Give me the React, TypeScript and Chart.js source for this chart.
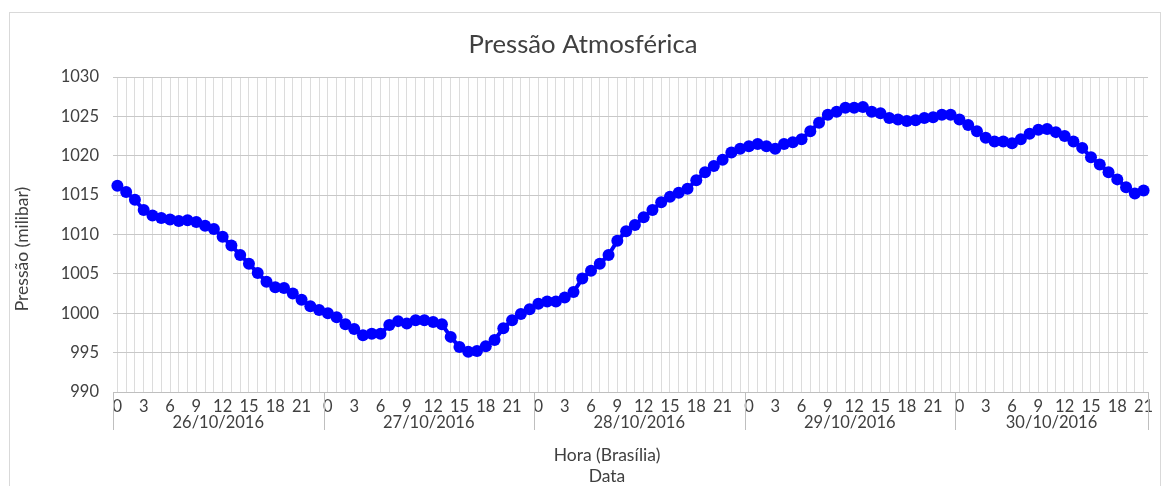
import React, { useEffect, useRef } from 'react';
import { Chart, registerables } from 'chart.js';

Chart.register(...registerables);

const chartTitle = 'Pressão Atmosférica';
const yAxisTitle = 'Pressão (milibar)';
const xAxisTitle1 = 'Hora (Brasília)';
const xAxisTitle2 = 'Data';

const dayLabels = ['26/10/2016', '27/10/2016', '28/10/2016', '29/10/2016', '30/10/2016'];

const pressure26 = [1016.2, 1015.4, 1014.4, 1013.1, 1012.4, 1012.1, 1011.9, 1011.7, 1011.8, 1011.6, 1011.1, 1010.7, 1009.7, 1008.6, 1007.4, 1006.3, 1005.1, 1004.0, 1003.3, 1003.2, 1002.5, 1001.7, 1000.9, 1000.4];
const pressure27 = [1000.0, 999.5, 998.6, 998.0, 997.2, 997.4, 997.4, 998.5, 999.0, 998.7, 999.1, 999.1, 998.9, 998.6, 997.0, 995.7, 995.1, 995.2, 995.8, 996.6, 998.1, 999.1, 999.9, 1000.5];
const pressure28 = [1001.2, 1001.5, 1001.5, 1002.0, 1002.7, 1004.4, 1005.4, 1006.3, 1007.4, 1009.2, 1010.4, 1011.2, 1012.2, 1013.1, 1014.1, 1014.8, 1015.3, 1015.8, 1016.9, 1017.9, 1018.7, 1019.5, 1020.4, 1020.9];
const pressure29 = [1021.2, 1021.5, 1021.2, 1020.9, 1021.5, 1021.7, 1022.1, 1023.1, 1024.2, 1025.2, 1025.6, 1026.1, 1026.1, 1026.2, 1025.6, 1025.4, 1024.8, 1024.6, 1024.4, 1024.5, 1024.8, 1024.9, 1025.2, 1025.2];
const pressure30 = [1024.6, 1023.9, 1023.1, 1022.3, 1021.8, 1021.8, 1021.6, 1022.1, 1022.8, 1023.3, 1023.4, 1023.0, 1022.5, 1021.8, 1021.0, 1019.8, 1018.9, 1017.9, 1017.0, 1016.0, 1015.2, 1015.6];

const dailySeries = [pressure26, pressure27, pressure28, pressure29, pressure30];

const yMin = 990;
const yMax = 1030;
const yStep = 5;
const hourLabelStep = 3;

const FONT = 'Lato, "Open Sans", sans-serif';
const TEXT = '#404040';

export default function App() {
  const canvasRef = useRef<HTMLCanvasElement | null>(null);

  useEffect(() => {
    const canvas = canvasRef.current;
    if (!canvas) return;

    const hourLabels: string[] = [];
    const values: number[] = [];
    const dayStarts: number[] = [];
    dailySeries.forEach((day) => {
      dayStarts.push(hourLabels.length);
      day.forEach((v, h) => {
        hourLabels.push(String(h));
        values.push(v);
      });
    });
    const total = hourLabels.length;

    const decorPlugin = {
      id: 'decor',
      afterDraw(chart: any) {
        const ctx = chart.ctx;
        const area = chart.chartArea;
        const xs = chart.scales.x;
        const half = (xs.getPixelForValue(1) - xs.getPixelForValue(0)) / 2;
        const bounds: number[] = dayStarts.map((s) => xs.getPixelForValue(s) - half);
        bounds.push(xs.getPixelForValue(total - 1) + half);

        ctx.save();
        ctx.strokeStyle = '#bfbfbf';
        ctx.lineWidth = 1;
        bounds.forEach((bx) => {
          const px = Math.round(bx) + 0.5;
          ctx.beginPath();
          ctx.moveTo(px, area.bottom);
          ctx.lineTo(px, area.bottom + 38);
          ctx.stroke();
        });

        ctx.fillStyle = TEXT;
        ctx.font = `16.5px ${FONT}`;
        ctx.textAlign = 'center';
        ctx.textBaseline = 'middle';
        dayLabels.forEach((d, i) => {
          ctx.fillText(d, (bounds[i] + bounds[i + 1]) / 2, area.bottom + 31);
        });

        // Chart title
        ctx.font = `25.7px ${FONT}`;
        ctx.fillText(chartTitle, 573, 32);

        // X axis titles
        ctx.font = `17.5px ${FONT}`;
        ctx.fillText(xAxisTitle1, 597, 442);
        ctx.fillText(xAxisTitle2, 597, 463);

        // Y axis title
        ctx.translate(12, 236);
        ctx.rotate(-Math.PI / 2);
        ctx.fillText(yAxisTitle, 0, 0);
        ctx.restore();
      },
    };

    const chart = new Chart(canvas, {
      type: 'line',
      data: {
        labels: hourLabels,
        datasets: [
          {
            label: yAxisTitle,
            data: values,
            borderColor: '#0000ff',
            backgroundColor: '#0000ff',
            borderWidth: 4,
            pointRadius: 6,
            pointBackgroundColor: '#0000ff',
            pointBorderWidth: 0,
            tension: 0,
          },
        ],
      },
      options: {
        animation: false,
        responsive: false,
        devicePixelRatio: 1,
        layout: { padding: { left: 0, right: 12, top: 64, bottom: 0 } },
        plugins: {
          legend: { display: false },
          tooltip: { enabled: false },
          title: { display: false },
        },
        scales: {
          x: {
            type: 'category',
            offset: true,
            grid: { offset: false, color: '#dcdcdc', drawTicks: false },
            border: { display: true, color: '#bfbfbf' },
            ticks: {
              autoSkip: false,
              maxRotation: 0,
              minRotation: 0,
              padding: 5,
              color: TEXT,
              font: { family: FONT, size: 16.5 },
              callback: (_v: any, i: number) =>
                Number(hourLabels[i]) % hourLabelStep === 0 ? hourLabels[i] : '',
            },
            afterFit: (s: any) => {
              s.height = 94;
            },
          },
          y: {
            min: yMin,
            max: yMax,
            grid: { color: '#c8c8c8', drawTicks: false },
            border: { display: false },
            ticks: {
              stepSize: yStep,
              padding: 14,
              color: TEXT,
              font: { family: FONT, size: 16.5 },
              callback: (v: any) => String(v),
            },
            afterFit: (s: any) => {
              s.width = 103;
            },
          },
        },
      },
      plugins: [decorPlugin],
    });

    return () => chart.destroy();
  }, []);

  return (
    <div
      style={{
        position: 'absolute',
        left: 9,
        top: 12,
        width: 1152,
        height: 480,
        border: '1px solid #d9d9d9',
        boxSizing: 'border-box',
        background: '#fff',
      }}
    >
      <canvas ref={canvasRef} width={1150} height={473} style={{ display: 'block' }} />
    </div>
  );
}
